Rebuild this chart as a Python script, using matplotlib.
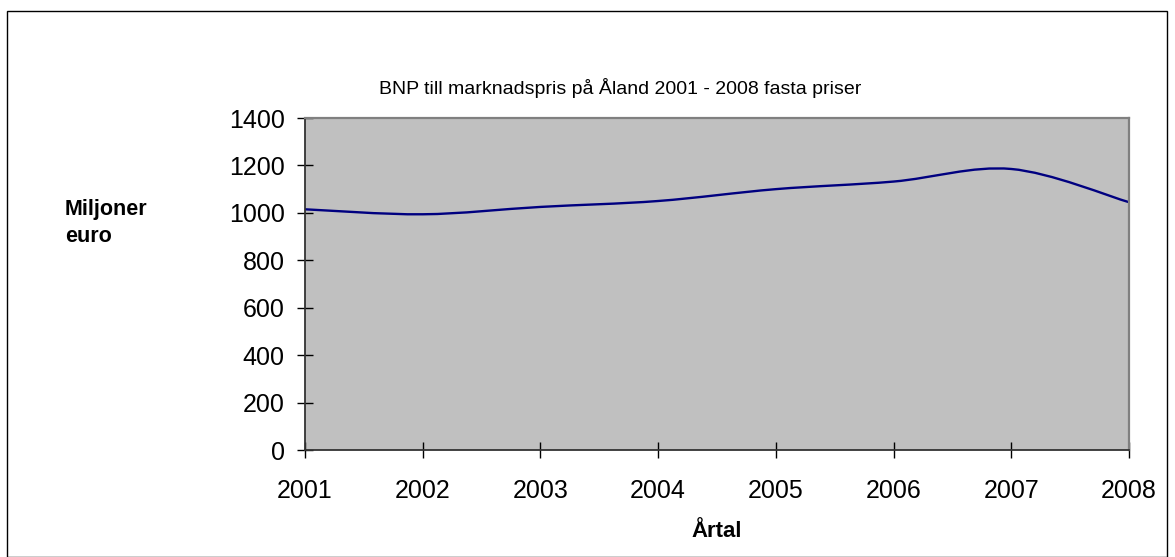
import numpy as np
import matplotlib
matplotlib.use("Agg")
import matplotlib.pyplot as plt
from matplotlib.path import Path
from matplotlib.patches import PathPatch, Rectangle

plt.rcParams['font.family'] = ['Liberation Sans', 'DejaVu Sans']

# data (miljoner euro, fasta priser)
years = [2001, 2002, 2003, 2004, 2005, 2006, 2007, 2008]
bnp = [1015, 994, 1025, 1050, 1100, 1132, 1185, 1045]
y_ticks = [0, 200, 400, 600, 800, 1000, 1200, 1400]

title = "BNP till marknadspris på Åland 2001 - 2008 fasta priser"
x_label = "Årtal"
y_label = "Miljoner\neuro"


def smooth_path(x, y):
    # Excel style smoothed line: cubic bezier segments through the points
    pts = np.column_stack([x, y]).astype(float)
    ext = np.vstack([pts[0], pts, pts[-1]])
    verts = [pts[0]]
    codes = [Path.MOVETO]
    for i in range(len(pts) - 1):
        p0, p1, p2, p3 = ext[i], ext[i + 1], ext[i + 2], ext[i + 3]
        verts += [p1 + (p2 - p0) / 6, p2 - (p3 - p1) / 6, p2]
        codes += [Path.CURVE4] * 3
    return Path(verts, codes)


W, H = 1175, 557
fig = plt.figure(figsize=(W / 100, H / 100), dpi=100)

# outer chart border
fig.patches.append(Rectangle((7 / W, 0), (1167 - 7) / W, 1 - 11 / H,
                             transform=fig.transFigure, fill=False,
                             edgecolor='black', linewidth=1.0))

ax = fig.add_axes([305 / W, 1 - 450 / H, (1129 - 305) / W, (450 - 118) / H])
ax.set_facecolor('#C0C0C0')

ax.add_patch(PathPatch(smooth_path(years, bnp), fill=False,
                       edgecolor='#000080', linewidth=1.7, capstyle='round'))

ax.set_xlim(years[0], years[-1])
ax.set_ylim(0, 1400)
ax.set_xticks(years)
ax.set_yticks(y_ticks)

for side in ['top', 'right']:
    ax.spines[side].set_color('#808080')
    ax.spines[side].set_linewidth(1.6)
for side in ['left', 'bottom']:
    ax.spines[side].set_color('#333333')
    ax.spines[side].set_linewidth(1.3)

ax.tick_params(axis='both', direction='inout', length=11.5, width=1.0,
               labelsize=18, colors='black')
ax.tick_params(axis='y', pad=9)
ax.tick_params(axis='x', pad=15)

# the title sits left of the plot centre in the original
fig.text(620 / W, 1 - 88 / H, title, fontsize=14, ha='center', va='center')
ax.set_xlabel(x_label, fontsize=16, fontweight='bold', labelpad=13)
fig.text(65 / W, 1 - 223 / H, y_label, fontsize=15.5, fontweight='bold',
         ha='left', va='center', linespacing=1.35)

fig.savefig('out.png', dpi=100)
